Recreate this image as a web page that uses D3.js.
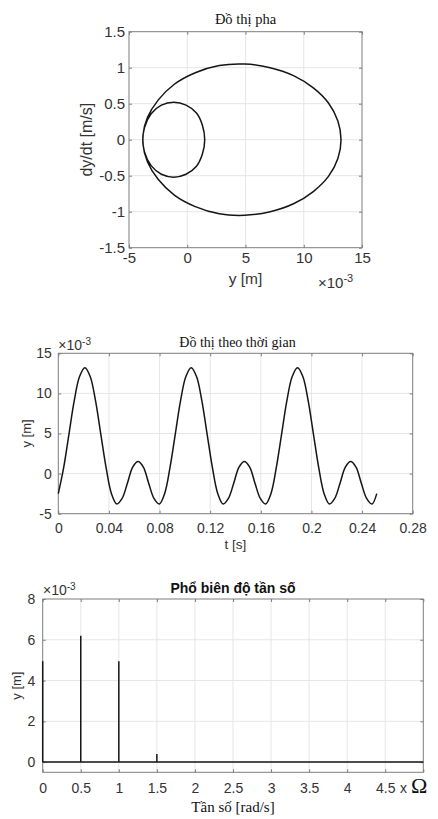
<!DOCTYPE html>
<meta charset="utf-8">
<style>
  body { margin: 0; background: #fff; }
  svg { display: block; }
  .tick text { font-family: "Liberation Sans", Arial, sans-serif; font-size: 14px; fill: #333; }
  .big .tick text { font-size: 15px; }
  .tick line { stroke: #7d7d7d; }
  .grid line { stroke: #e6e6e6; stroke-width: 1; }
  .frame { fill: none; stroke: #7d7d7d; stroke-width: 1; }
  .curve { fill: none; stroke: #151515; stroke-width: 1.5; }
  .sans { font-family: "Liberation Sans", Arial, sans-serif; fill: #333; }
  .serif { font-family: "Liberation Serif", "Times New Roman", serif; fill: #111; }
</style>

<body>
<script src="https://d3js.org/d3.v7.min.js"></script>
<script>

  // ---- data (y values in units of 1e-3 m) ----

  // phase portrait: y and dy/dt along one period of the motion
  var phaseY = [13.2, 12.93, 12.12, 10.82, 9.12, 7.12, 4.94, 2.75, 0.69, -1.11, -2.5, -3.41, -3.8, -3.67, -3.1, -2.22, -1.16, -0.1, 0.79, 1.3,
                1.5, 1.3, 0.79, -0.1, -1.16, -2.22, -3.1, -3.67, -3.8, -3.41, -2.5, -1.11, 0.69, 2.75, 4.94, 7.12, 9.12, 10.82, 12.12, 12.93];
  var phaseV = [0, -0.26, -0.51, -0.72, -0.89, -1.0, -1.05, -1.03, -0.93, -0.77, -0.55, -0.31, -0.06, 0.17, 0.36, 0.48, 0.52, 0.48, 0.37, 0.2,
                0, -0.2, -0.37, -0.48, -0.52, -0.48, -0.36, -0.17, 0.06, 0.31, 0.55, 0.77, 0.93, 1.03, 1.05, 1.0, 0.89, 0.72, 0.51, 0.26];
  var phaseXTicks = [-5, 0, 5, 10, 15];
  var phaseYTicks = [-1.5, -1, -0.5, 0, 0.5, 1, 1.5];

  // time history
  var timeT = [0, 0.0042, 0.0084, 0.0126, 0.0168, 0.021, 0.0252, 0.0294, 0.0336, 0.0378, 0.042, 0.0462, 0.0504, 0.0546, 0.0588, 0.063, 0.0672, 0.0714, 0.0756, 0.0798,
               0.084, 0.0882, 0.0924, 0.0966, 0.1008, 0.105, 0.1092, 0.1134, 0.1176, 0.1218, 0.126, 0.1302, 0.1344, 0.1386, 0.1428, 0.147, 0.1512, 0.1554, 0.1596, 0.1638,
               0.168, 0.1722, 0.1764, 0.1806, 0.1848, 0.189, 0.1932, 0.1974, 0.2016, 0.2058, 0.21, 0.2142, 0.2184, 0.2226, 0.2268, 0.231, 0.2352, 0.2394, 0.2436, 0.2478,
               0.2516];
  var timeY = [-2.5, 0.7, 4.9, 9.1, 12.1, 13.2, 12.1, 9.1, 4.9, 0.7, -2.5, -3.8, -3.1, -1.2, 0.8, 1.5, 0.8, -1.2, -3.1, -3.8,
               -2.5, 0.7, 4.9, 9.1, 12.1, 13.2, 12.1, 9.1, 4.9, 0.7, -2.5, -3.8, -3.1, -1.2, 0.8, 1.5, 0.8, -1.2, -3.1, -3.8,
               -2.5, 0.7, 4.9, 9.1, 12.1, 13.2, 12.1, 9.1, 4.9, 0.7, -2.5, -3.8, -3.1, -1.2, 0.8, 1.5, 0.8, -1.2, -3.1, -3.8,
               -2.5];
  var timeXTicks = [0, 0.04, 0.08, 0.12, 0.16, 0.2, 0.24, 0.28];
  var timeYTicks = [-5, 0, 5, 10, 15];

  // amplitude spectrum (frequency in multiples of Omega)
  var specF = [0, 0.5, 1, 1.5];
  var specA = [4.95, 6.2, 4.95, 0.4];
  var specFloor = [0, 5];
  var specXTicks = [0, 0.5, 1, 1.5, 2, 2.5, 3, 3.5, 4, 4.5, 5];
  var specYTicks = [0, 2, 4, 6, 8];

  var svg = d3.select("body").append("svg")
    .attr("width", 438)
    .attr("height", 819);

  // draws grid, box and inward ticks, returns the scales
  function panel(b, xDom, yDom, xTicks, yTicks, padX, padY, xFmt) {
    var w = b.right - b.left, h = b.bottom - b.top;
    var g = svg.append("g")
      .attr("transform", "translate(" + b.left + "," + b.top + ")");
    var x = d3.scaleLinear().domain(xDom).range([0, w]);
    var y = d3.scaleLinear().domain(yDom).range([h, 0]);

    var grid = g.append("g").attr("class", "grid");
    grid.selectAll(".gx").data(xTicks.slice(1, -1)).enter().append("line")
      .attr("x1", function (d) { return x(d); }).attr("x2", function (d) { return x(d); })
      .attr("y1", 0).attr("y2", h);
    grid.selectAll(".gy").data(yTicks.filter(function (d) { return d > yDom[0] && d < yDom[1]; })).enter().append("line")
      .attr("y1", function (d) { return y(d); }).attr("y2", function (d) { return y(d); })
      .attr("x1", 0).attr("x2", w);

    var fmt = xFmt || function (d) { return String(d); };
    g.append("g")
      .attr("transform", "translate(0," + h + ")")
      .call(d3.axisBottom(x).tickValues(xTicks).tickSizeInner(-3).tickSizeOuter(0).tickPadding(padX).tickFormat(fmt));
    g.append("g")
      .call(d3.axisLeft(y).tickValues(yTicks).tickSizeInner(-3).tickSizeOuter(0).tickPadding(padY).tickFormat(function (d) { return String(d); }));
    g.append("g")
      .call(d3.axisTop(x).tickValues(xTicks).tickSizeInner(-3).tickSizeOuter(0).tickFormat(""));
    g.append("g")
      .attr("transform", "translate(" + w + ",0)")
      .call(d3.axisRight(y).tickValues(yTicks).tickSizeInner(-3).tickSizeOuter(0).tickFormat(""));
    g.selectAll(".domain").remove();

    g.append("rect").attr("class", "frame")
      .attr("x", 0).attr("y", 0).attr("width", w).attr("height", h);

    return { g: g, x: x, y: y, w: w, h: h };
  }

  function exponent(xPos, yPos, dy, size) {
    var t = svg.append("text").attr("class", "sans")
      .attr("x", xPos).attr("y", yPos).style("font-size", size + "px");
    t.append("tspan").text("\u00d710");
    t.append("tspan").attr("dy", dy).style("font-size", (size - 4) + "px").text("-3");
  }

  // ---------- 1. phase portrait ----------
  var b1 = { left: 129, top: 31.7, right: 362, bottom: 247.7 };
  var p1 = panel(b1, [-5, 15], [-1.5, 1.5], phaseXTicks, phaseYTicks, 5, 4);
  p1.g.classed("big", true);

  var phasePts = phaseY.map(function (d, i) { return [d, phaseV[i]]; });
  p1.g.append("path")
    .datum(phasePts)
    .attr("class", "curve")
    .attr("d", d3.line()
      .x(function (d) { return p1.x(d[0]); })
      .y(function (d) { return p1.y(d[1]); })
      .curve(d3.curveCatmullRomClosed.alpha(0.5)));

  svg.append("text").attr("class", "serif")
    .attr("x", (b1.left + b1.right) / 2).attr("y", 24)
    .attr("text-anchor", "middle").style("font-size", "14.5px")
    .text("Đồ thị pha");
  svg.append("text").attr("class", "sans")
    .attr("x", (b1.left + b1.right) / 2).attr("y", 283.5)
    .attr("text-anchor", "middle").style("font-size", "15.5px")
    .text("y [m]");
  svg.append("text").attr("class", "sans")
    .attr("transform", "translate(92," + (b1.top + b1.bottom) / 2 + ") rotate(-90)")
    .attr("text-anchor", "middle").style("font-size", "16px")
    .text("dy/dt [m/s]");
  exponent(318, 288, -6, 15);

  // ---------- 2. time history ----------
  var b2 = { left: 58.3, top: 353.3, right: 412.7, bottom: 513.7 };
  var p2 = panel(b2, [0, 0.28], [-5, 15], timeXTicks, timeYTicks, 9.5, 6.5);

  p2.g.append("path")
    .datum(timeT.map(function (d, i) { return [d, timeY[i]]; }))
    .attr("class", "curve")
    .attr("d", d3.line()
      .x(function (d) { return p2.x(d[0]); })
      .y(function (d) { return p2.y(d[1]); })
      .curve(d3.curveCatmullRom.alpha(0.5)));

  svg.append("text").attr("class", "serif")
    .attr("x", (b2.left + b2.right) / 2 + 2).attr("y", 347)
    .attr("text-anchor", "middle").style("font-size", "14px")
    .text("Đồ thị theo thời gian");
  svg.append("text").attr("class", "sans")
    .attr("x", (b2.left + b2.right) / 2).attr("y", 548.5)
    .attr("text-anchor", "middle").style("font-size", "13.5px")
    .text("t [s]");
  svg.append("text").attr("class", "sans")
    .attr("transform", "translate(30.5," + (b2.top + b2.bottom) / 2 + ") rotate(-90)")
    .attr("text-anchor", "middle").style("font-size", "13px")
    .text("y [m]");
  exponent(58.3, 350, -5, 14);

  // ---------- 3. amplitude spectrum ----------
  var b3 = { left: 42.7, top: 599, right: 423.3, bottom: 772.3 };
  var p3 = panel(b3, [0, 5], [-0.5, 8], specXTicks, specYTicks, 11, 7.5,
    function (d) { return d === 5 ? "" : String(d); });

  p3.g.append("line")
    .attr("class", "curve")
    .attr("x1", p3.x(specFloor[0])).attr("x2", p3.x(specFloor[1]))
    .attr("y1", p3.y(0)).attr("y2", p3.y(0));
  p3.g.selectAll(".stem")
    .data(specF)
    .enter().append("line")
    .attr("class", "curve stem")
    .attr("x1", function (d) { return p3.x(d); })
    .attr("x2", function (d) { return p3.x(d); })
    .attr("y1", p3.y(0))
    .attr("y2", function (d, i) { return p3.y(specA[i]); });

  svg.append("text").attr("class", "sans")
    .attr("x", (b3.left + b3.right) / 2).attr("y", 593)
    .attr("text-anchor", "middle").style("font-size", "14px").style("font-weight", "bold").style("fill", "#111")
    .text("Phổ biên độ tần số");
  svg.append("text").attr("class", "serif")
    .attr("x", (b3.left + b3.right) / 2).attr("y", 812)
    .attr("text-anchor", "middle").style("font-size", "15px")
    .text("Tần số [rad/s]");
  svg.append("text").attr("class", "sans")
    .attr("transform", "translate(20.5," + (b3.top + b3.bottom) / 2 + ") rotate(-90)")
    .attr("text-anchor", "middle").style("font-size", "13px")
    .text("y [m]");
  exponent(43, 595, -5, 14);

  var om = svg.append("text").attr("x", 400).attr("y", 793);
  om.append("tspan").attr("class", "sans").style("font-size", "14px").text("x ");
  om.append("tspan").attr("class", "serif").style("font-size", "22px").text("Ω");

</script>
</body>
